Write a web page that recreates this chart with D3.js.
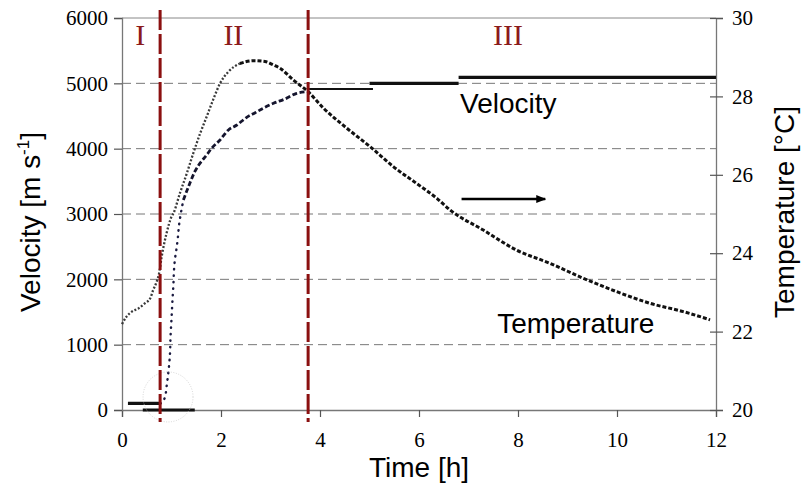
<!DOCTYPE html>
<html>
<head>
<meta charset="utf-8">
<script src="https://cdn.jsdelivr.net/npm/d3@7"></script>
<style>
    body { margin: 0; background: #fff; }
    .title { font-family: 'Liberation Sans', Arial, sans-serif; font-size: 28px; fill: #000; }
    .phase { font-family: 'Liberation Serif', 'Times New Roman', serif; font-size: 30px; fill: #8b1a1a; }
</style>
</head>
<body>
<div id="body"></div>
<script>
// time axis ticks [h]
const timeTicks = [0, 2, 4, 6, 8, 10, 12];
const velocityTicks = [0, 1000, 2000, 3000, 4000, 5000, 6000];
const temperatureTicks = [20, 22, 24, 26, 28, 30];

// temperature [°C]
const tempTime = [0, 0.09, 0.20, 0.33, 0.46, 0.57, 0.63, 0.70, 0.75, 0.80, 0.90, 1.00, 1.04, 1.17, 1.31, 1.44, 1.58, 1.71, 1.84, 1.98, 2.15, 2.38, 2.65, 2.89, 3.06, 3.19, 3.46, 3.76, 4.07, 4.54, 5.01, 5.48, 5.95, 6.36, 6.63, 7.30, 7.97, 8.65, 9.32, 9.99, 10.67, 11.34, 11.88];
const tempValue = [22.19, 22.38, 22.51, 22.59, 22.72, 22.85, 23.06, 23.27, 23.49, 23.90, 24.51, 24.93, 25.02, 25.53, 26.04, 26.55, 27.06, 27.48, 27.91, 28.33, 28.63, 28.84, 28.91, 28.89, 28.80, 28.72, 28.42, 28.12, 27.70, 27.19, 26.72, 26.21, 25.78, 25.40, 25.10, 24.59, 24.08, 23.74, 23.36, 23.02, 22.72, 22.51, 22.30];

// velocity [m/s] during setting (phase II)
const velTime = [0.77, 0.80, 0.87, 0.90, 0.94, 0.97, 0.98, 1.00, 1.02, 1.04, 1.05, 1.07, 1.10, 1.13, 1.15, 1.19, 1.24, 1.37, 1.47, 1.55, 1.71, 1.81, 1.98, 2.15, 2.32, 2.52, 2.69, 2.85, 3.06, 3.29, 3.53, 3.73];
const velValue = [100, 107, 204, 357, 600, 872, 1117, 1393, 1684, 1944, 2132, 2311, 2464, 2648, 2816, 3015, 3214, 3470, 3648, 3750, 3903, 4005, 4133, 4286, 4362, 4480, 4550, 4618, 4694, 4760, 4847, 4872];

// flat velocity steps
const stepStart = [0.12, 0.42, 3.76, 5.00, 6.80];
const stepEnd = [0.77, 1.47, 5.07, 6.80, 12.00];
const stepValue = [100, 0, 4913, 5000, 5092];

// phase boundaries
const phaseBounds = [0.77, 3.76];
const phaseNames = ['I', 'II', 'III'];
const phaseCenters = [0.37, 2.25, 7.8];

const width = 802, height = 496;
const margins = {left: 122, right: 86, top: 18, bottom: 86};

const x = d3.scaleLinear().domain([0, 12]).range([margins.left, width - margins.right]);
const yV = d3.scaleLinear().domain([0, 6000]).range([height - margins.bottom, margins.top]);
const yT = d3.scaleLinear().domain([20, 30]).range([height - margins.bottom, margins.top]);

const svg = d3.select('#body').append('svg')
    .attr('width', width)
    .attr('height', height);

// grid
svg.append('g')
    .selectAll('line')
    .data(velocityTicks.slice(1, -1))
    .join('line')
    .attr('x1', x(0)).attr('x2', x(12))
    .attr('y1', d => yV(d)).attr('y2', d => yV(d))
    .attr('stroke', '#777')
    .attr('stroke-dasharray', '9,5');

// frame top
svg.append('line')
    .attr('x1', x(0)).attr('x2', x(12))
    .attr('y1', yV(6000)).attr('y2', yV(6000))
    .attr('stroke', '#888');

// axes
const gx = svg.append('g')
    .attr('transform', `translate(0,${yV(0)})`)
    .call(d3.axisBottom(x).tickValues(timeTicks).tickSize(7).tickPadding(15));

const gl = svg.append('g')
    .attr('transform', `translate(${x(0)},0)`)
    .call(d3.axisLeft(yV).tickValues(velocityTicks).tickFormat(d3.format('d')).tickSize(8).tickPadding(6));

const gr = svg.append('g')
    .attr('transform', `translate(${x(12)},0)`)
    .call(d3.axisRight(yT).tickValues(temperatureTicks).tickSize(7).tickPadding(9));

[gx, gl, gr].forEach(g => {
    g.attr('font-family', "'Liberation Serif', 'DejaVu Serif', serif").attr('font-size', 21);
    g.select('.domain').attr('stroke', '#777').attr('stroke-width', 1.3);
    g.selectAll('.tick line').attr('stroke', '#555').attr('stroke-width', 1.2);
    g.selectAll('.tick text')
        .style('font-family', "'Liberation Serif', 'DejaVu Serif', serif")
        .style('font-size', '21px')
        .attr('fill', '#000');
});
gr.selectAll('.tick line').attr('x1', -6);

// temperature curve
const tempData = tempTime.map((t, i) => ({t, v: tempValue[i]}));
const tempLine = d3.line().x(d => x(d.t)).y(d => yT(d.v)).curve(d3.curveMonotoneX);
svg.append('path')
    .datum(tempData.filter(d => d.t <= 2.4))
    .attr('fill', 'none')
    .attr('stroke', '#3a3a3a')
    .attr('stroke-width', 2.3)
    .attr('stroke-dasharray', '2,1.8')
    .attr('d', tempLine);
svg.append('path')
    .datum(tempData.filter(d => d.t >= 2.38))
    .attr('fill', 'none')
    .attr('stroke', '#111')
    .attr('stroke-width', 3)
    .attr('stroke-dasharray', '4,2')
    .attr('d', tempLine);

// velocity rise
const velData = velTime.map((t, i) => ({t, v: velValue[i]}));
svg.append('path')
    .datum(velData.filter(d => d.t <= 1.24))
    .attr('fill', 'none')
    .attr('stroke', '#1a1a40')
    .attr('stroke-width', 2.4)
    .attr('stroke-linecap', 'round')
    .attr('stroke-dasharray', '0.5,6')
    .attr('d', d3.line().x(d => x(d.t)).y(d => yV(d.v)).curve(d3.curveMonotoneY));
svg.append('path')
    .datum(velData.filter(d => d.t >= 1.24))
    .attr('fill', 'none')
    .attr('stroke', '#15152e')
    .attr('stroke-width', 2.8)
    .attr('stroke-dasharray', '5,2.5')
    .attr('d', d3.line().x(d => x(d.t)).y(d => yV(d.v)).curve(d3.curveMonotoneX));

// velocity steps
svg.append('g')
    .selectAll('line')
    .data(stepValue.map((v, i) => ({a: stepStart[i], b: stepEnd[i], v})))
    .join('line')
    .attr('x1', d => x(d.a)).attr('x2', d => x(d.b))
    .attr('y1', d => yV(d.v)).attr('y2', d => yV(d.v))
    .attr('stroke', '#111')
    .attr('stroke-width', d => d.v === 4913 ? 2.2 : 3.2);

// faint circle around onset
svg.append('circle')
    .attr('cx', x(0.93)).attr('cy', yV(200))
    .attr('r', 25)
    .attr('fill', 'none')
    .attr('stroke', '#ccc')
    .attr('stroke-width', 0.8)
    .attr('stroke-dasharray', '1,1.5');

// phase lines
svg.append('g')
    .selectAll('line')
    .data(phaseBounds)
    .join('line')
    .attr('x1', d => x(d)).attr('x2', d => x(d))
    .attr('y1', 10).attr('y2', 422)
    .attr('stroke', '#8b1010')
    .attr('stroke-width', 3)
    .attr('stroke-dasharray', '20,4');

svg.append('g')
    .selectAll('text')
    .data(phaseNames)
    .join('text')
    .attr('class', 'phase')
    .attr('x', (d, i) => x(phaseCenters[i]))
    .attr('y', 45)
    .attr('text-anchor', 'middle')
    .text(d => d);

// series labels
svg.append('text').attr('class', 'title')
    .attr('x', x(6.83)).attr('y', 113)
    .text('Velocity');
svg.append('text').attr('class', 'title')
    .attr('x', x(7.58)).attr('y', 333)
    .text('Temperature');

// arrow to right axis
svg.append('defs').append('marker')
    .attr('id', 'arrow')
    .attr('viewBox', '0 0 10 10')
    .attr('refX', 9).attr('refY', 5)
    .attr('markerWidth', 4).attr('markerHeight', 4)
    .attr('orient', 'auto')
    .append('path')
    .attr('d', 'M0,1L10,5L0,9Z')
    .attr('fill', '#000');
svg.append('line')
    .attr('x1', x(6.86)).attr('x2', x(8.55))
    .attr('y1', yT(25.38)).attr('y2', yT(25.38))
    .attr('stroke', '#000')
    .attr('stroke-width', 2.5)
    .attr('marker-end', 'url(#arrow)');

// axis titles
svg.append('text').attr('class', 'title')
    .attr('x', x(6)).attr('y', 477)
    .attr('text-anchor', 'middle')
    .text('Time [h]');

const vt = svg.append('text').attr('class', 'title')
    .attr('transform', `translate(40,${yV(3000) + 8}) rotate(-90)`)
    .attr('text-anchor', 'middle');
vt.append('tspan').text('Velocity [m s');
vt.append('tspan').attr('font-size', 17).attr('dy', -11).text('-1');
vt.append('tspan').attr('dy', 11).text(']');

svg.append('text').attr('class', 'title')
    .attr('transform', `translate(794,${yT(25) - 2}) rotate(-90)`)
    .attr('text-anchor', 'middle')
    .text('Temperature [°C]');
</script>
</body>
</html>
